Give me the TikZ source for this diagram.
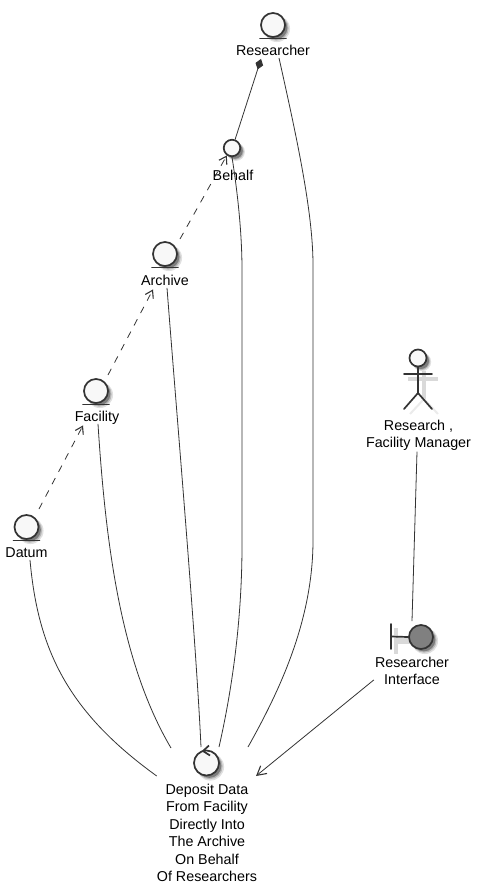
\documentclass[tikz,border=0pt]{standalone}
\usepackage{fontspec}
\setmainfont{Liberation Sans}
\usetikzlibrary{arrows.meta, shadows, calc}
\definecolor{iconfill}{HTML}{F8F8F8}
\definecolor{linegray}{HTML}{333333}
\tikzset{
    softshadow/.style={
        general shadow={fill=black, opacity=.12, shadow xshift=3.5pt, shadow yshift=-3.5pt, shadow scale=1.10},
        general shadow={fill=black, opacity=.18, shadow xshift=3.2pt, shadow yshift=-3.2pt, shadow scale=1.03},
        general shadow={fill=black, opacity=.32, shadow xshift=3pt, shadow yshift=-3pt, shadow scale=0.96}},
    iconcircle/.style={circle, draw=linegray, line width=1.7pt, fill=iconfill, inner sep=0pt, softshadow},
    caption/.style={inner sep=0pt, align=center, text=black, text height=10.5pt, text depth=3pt, font=\fontsize{14.3}{17.5}\selectfont},
    longcaption/.style={inner sep=0pt, align=center, anchor=north, text=black, font=\fontsize{14.3}{17.5}\selectfont},
    plainline/.style={draw=linegray, line width=0.8pt},
    dashedline/.style={plainline, dash pattern=on 7pt off 7pt, -{Straight Barb[length=7pt, width=9pt, line width=1.1pt]}},
    iconline/.style={draw=linegray, line width=1.7pt, line cap=round},
    iconshade/.style={draw=black!15, line width=4pt}
}
\begin{document}
\begin{tikzpicture}[x=1pt, y=-1pt]
        \useasboundingbox (0,0) rectangle (481,894);

        % entities
        \node[iconcircle, minimum size=24pt] (researcher) at (273,25) {};
        \node[caption] (researcherlab) at (273,52) {Researcher};
        \draw[iconline] ([xshift=-13,yshift=-0.5]researcher.south) -- ([xshift=13,yshift=-0.5]researcher.south);

        \node[iconcircle, minimum size=16.5pt] (behalf) at (232,148) {};
        \node[caption] (behalflab) at (233,177) {Behalf};

        \node[iconcircle, minimum size=24pt] (archive) at (165,254) {};
        \node[caption] (archivelab) at (165,282) {Archive};
        \draw[iconline] ([xshift=-13,yshift=-0.5]archive.south) -- ([xshift=13,yshift=-0.5]archive.south);

        \node[iconcircle, minimum size=24pt] (facility) at (96,391) {};
        \node[caption] (facilitylab) at (97,418) {Facility};
        \draw[iconline] ([xshift=-13,yshift=-0.5]facility.south) -- ([xshift=13,yshift=-0.5]facility.south);

        \node[iconcircle, minimum size=24pt] (datum) at (26.5,527) {};
        \node[caption] (datumlab) at (26.5,554) {Datum};
        \draw[iconline] ([xshift=-13,yshift=-0.5]datum.south) -- ([xshift=13,yshift=-0.5]datum.south);

        % actor
        \draw[iconshade] (408,379) -- (438,379);
        \draw[iconshade] (424,371) -- (424,401);
        \draw[iconshade, line width=2pt, draw=black!8] (424,399) -- (410,414);
        \draw[iconshade, line width=2pt, draw=black!8] (424,399) -- (438,414);
        \coordinate (hip) at (418,393);
        \node[iconcircle, minimum size=17pt] (manager) at (418,358) {};
        \draw[iconline] (manager.south) -- (hip);
        \draw[iconline] (404,374) -- (432,374);
        \draw[iconline] (hip) -- (404,409);
        \draw[iconline] (hip) -- (432,409);
        \node[longcaption] (managerlab) at (418.5,419.5) {Research ,\\Facility Manager};

        % boundary
        \draw[iconshade, line width=6pt] (396,641) -- (412,641);
        \draw[iconshade] (396,628) -- (396,654);
        \node[iconcircle, fill=black!50, minimum size=24pt] (interface) at (421,637) {};
        \draw[iconline] (391,624) -- (391,649);
        \draw[iconline] (391,636.5) -- (interface.west);
        \node[longcaption] (interfacelab) at (412,656.5) {Researcher\\Interface};

        % control
        \node[iconcircle, minimum size=25pt] (depositicon) at (206.5,763) {};
        \draw[iconline, line cap=butt] (209,745.5) -- (203,751) -- (210,755.5);
        \node[longcaption] (deposit) at (207,783.5) {Deposit Data\\From Facility\\Directly Into\\The Archive\\On Behalf\\Of Researchers};

        % way points of the long lines
        \coordinate (b1) at (242,270);
        \coordinate (b2) at (242,545);
        \coordinate (r1) at (313,265);
        \coordinate (r2) at (313,540);

        % dashed lines
        \draw[dashedline] (39,509) -- ([xshift=-14,yshift=-0.5]facilitylab.south);
        \draw[dashedline] (108,375) -- ([xshift=-12,yshift=-0.5]archivelab.south);
        \draw[dashedline] (180,239) -- (behalf.235);

        \draw[plainline, {Diamond[length=11pt, width=8pt, fill=linegray]}-] ([xshift=-12]researcherlab.south) -- (behalf.70);

        % lines down to the use case
        \draw[plainline] ([xshift=3.5,yshift=1]datumlab.south) .. controls (38,650) and (68,712) .. ([yshift=7.5]deposit.north west);
        \draw[plainline] ([xshift=1,yshift=1]facilitylab.south) .. controls (106,550) and (122,665) .. ([xshift=-36,yshift=35.5]deposit.north);
        \draw[plainline] ([xshift=2,yshift=1]archivelab.south) .. controls (178,430) and (196,640) .. ([xshift=-6,yshift=36.5]deposit.north);
        \draw[plainline] (behalf.south) .. controls (238,195) and (242,235) .. (b1) -- (b2) .. controls (242,620) and (232,690) .. ([xshift=12,yshift=36.5]deposit.north);
        \draw[plainline] ([xshift=6,yshift=1]researcherlab.south) .. controls (295,130) and (313,210) .. (r1) -- (r2) .. controls (313,620) and (280,690) .. ([xshift=41,yshift=36.5]deposit.north);

        \draw[plainline] ([xshift=-1.5,yshift=-1]managerlab.south) -- ([xshift=-9,yshift=3]interface.north);
        \draw[plainline, -{Straight Barb[length=9pt, width=10pt, line width=1.1pt]}] ([xshift=-1,yshift=5]interfacelab.south west) -- ([xshift=49,yshift=7.5]deposit.north);
\end{tikzpicture}
\end{document}
